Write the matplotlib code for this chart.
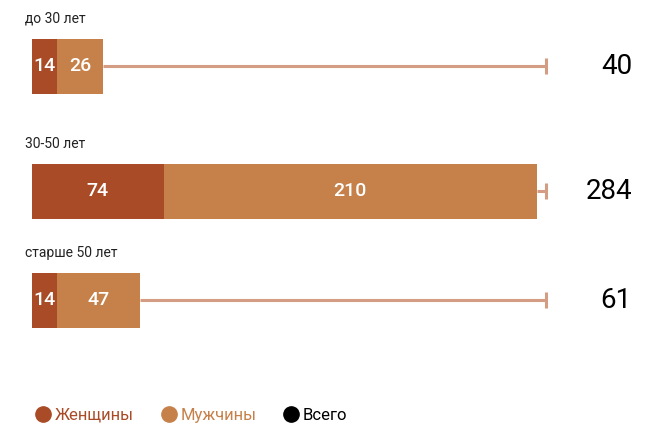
import matplotlib.pyplot as plt
from matplotlib.lines import Line2D

plt.rcParams['font.family'] = ['Roboto', 'DejaVu Sans']

groups = ["до 30 лет", "30-50 лет", "старше 50 лет"]
women = [14, 74, 14]
men = [26, 210, 47]
totals = [40, 284, 61]
legend_labels = ["Женщины", "Мужчины", "Всего"]

c_women = '#a94b26'
c_men = '#c6814a'
c_line = '#d59c84'

fig = plt.figure(figsize=(6.65, 4.28), dpi=100)
ax = fig.add_axes([0, 0, 1, 1])

# pixel-like layout: 1.778 px per unit, bars start at x=32px
scale = 505 / 284
ax.set_xlim(-32 / scale, (665 - 32) / scale)
ax.set_ylim(428, 0)
ax.axis('off')

row_y = [66, 191, 300]
bar_h = 55
line_end = 289

for g, w, m, t, y in zip(groups, women, men, totals, row_y):
    ax.plot([w + m, line_end], [y, y], color=c_line, lw=2.2, zorder=1,
            solid_capstyle='butt')
    ax.plot([line_end, line_end], [y - 8, y + 8], color=c_line, lw=2.2,
            zorder=1, solid_capstyle='butt')
    ax.barh(y, w, height=bar_h, color=c_women, zorder=2)
    ax.barh(y, m, left=w, height=bar_h, color=c_men, zorder=2)
    ax.text(w / 2, y, str(w), color='white', fontsize=14, fontweight='medium',
            ha='center', va='center', zorder=3)
    ax.text(w + m / 2, y, str(m), color='white', fontsize=14,
            fontweight='medium', ha='center', va='center', zorder=3)
    ax.text(-7 / scale, y - bar_h / 2 - 20, g, fontsize=10, ha='left',
            va='center', color='#222222')
    ax.text(600 / scale, y, str(t), fontsize=20, fontweight='normal',
            ha='right', va='center', color='black')

handles = [Line2D([], [], marker='o', ls='', ms=11, color=c)
           for c in (c_women, c_men, 'black')]
leg = fig.legend(handles, legend_labels, loc='center left',
                 bbox_to_anchor=(0.027, 0.03), ncol=3, frameon=False,
                 fontsize=12, handletextpad=0.1, columnspacing=1.5,
                 handlelength=1.2)
for txt, c in zip(leg.get_texts(), (c_women, c_men, 'black')):
    txt.set_color(c)

fig.savefig('out.png', dpi=100)
